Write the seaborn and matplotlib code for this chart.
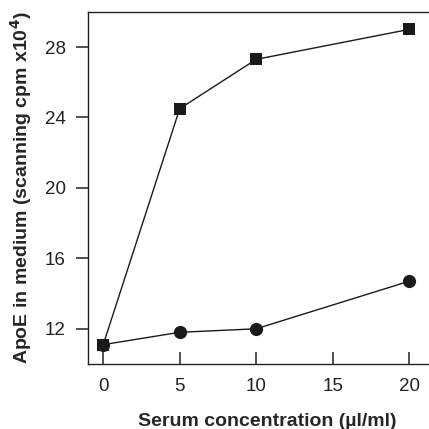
import matplotlib
matplotlib.use("Agg")
import matplotlib.pyplot as plt
import seaborn as sns
import pandas as pd

serum = [0, 5, 10, 20]
apoe_squares = [11.1, 24.5, 27.3, 29.0]
apoe_circles = [11.1, 11.8, 12.0, 14.7]
x_ticks = [0, 5, 10, 15, 20]
y_ticks = [12, 16, 20, 24, 28]

sns.set_style("ticks")
plt.rcParams["font.family"] = ["Liberation Sans", "DejaVu Sans"]

df = pd.DataFrame({
    "serum": serum * 2,
    "apoe": apoe_squares + apoe_circles,
    "series": ["sq"] * len(serum) + ["ci"] * len(serum),
})

fig = plt.figure(figsize=(4.29, 4.29), dpi=100)
ax = fig.add_axes([0.205, 0.1515, 0.795, 0.821])

sns.lineplot(data=df[df.series == "ci"], x="serum", y="apoe", ax=ax,
             color="#1a1a1a", lw=1.0, marker="o", markersize=9.5,
             markeredgewidth=0, markerfacecolor="#1a1a1a")
sns.lineplot(data=df[df.series == "sq"], x="serum", y="apoe", ax=ax,
             color="#1a1a1a", lw=1.0, marker="s", markersize=9,
             markeredgewidth=0, markerfacecolor="#1a1a1a")

ax.set_xlim(-1, 21.3)
ax.set_ylim(10, 30)
ax.set_xticks(x_ticks)
ax.set_yticks(y_ticks)
ax.tick_params(axis="x", direction="in", length=9, width=1.1, labelsize=13.5, pad=10,
               color="#222222", labelcolor="#222222")
ax.tick_params(axis="y", direction="out", length=9, width=1.1, labelsize=13.5, pad=7,
               color="#222222", labelcolor="#222222")
for s in ["left", "top", "bottom"]:
    ax.spines[s].set_linewidth(1.0)
    ax.spines[s].set_color("#222222")
ax.spines["right"].set_visible(False)

ax.set_xlabel("Serum concentration (\u00b5l/ml)", fontsize=14, fontweight="bold")
ax.xaxis.set_label_coords(0.527, -0.138)
ax.set_ylabel("ApoE in medium (scanning cpm x10$^{\\mathbf{4}}$)", fontsize=14, fontweight="bold", labelpad=8)

fig.savefig("out.png", dpi=100)
